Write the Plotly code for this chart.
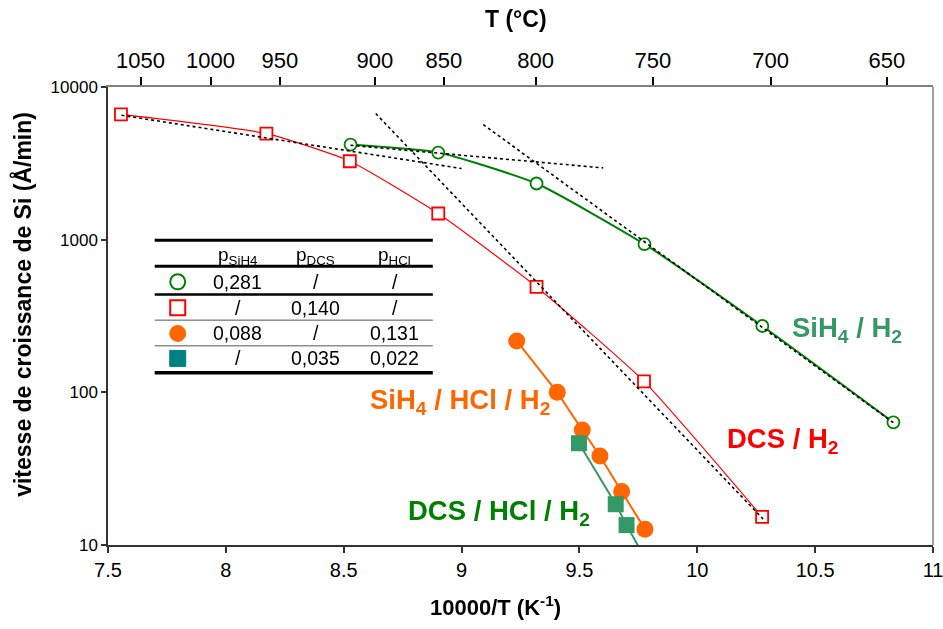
import plotly.graph_objects as go

# ---------------- data ----------------
sih4_h2_x = [8.529, 8.901, 9.318, 9.776, 10.276, 10.832]
sih4_h2_y = [4198, 3722, 2333, 934, 272, 63.6]

dcs_h2_x = [7.555, 8.172, 8.526, 8.901, 9.318, 9.774, 10.275]
dcs_h2_y = [6620, 4955, 3264, 1484, 490, 118, 15.3]

sih4_hcl_x = [9.234, 9.406, 9.512, 9.587, 9.679, 9.778]
sih4_hcl_y = [217, 100, 56.6, 38.3, 22.4, 12.7]

dcs_hcl_x = [9.498, 9.654, 9.700]
dcs_hcl_y = [46.4, 18.5, 13.5]
dcs_hcl_trend_x = [9.498, 9.654, 9.700, 9.76]
dcs_hcl_trend_y = [46.4, 18.5, 13.5, 9.2]

# Arrhenius fit lines (dotted)
fit_dcs_high_x = [7.557, 9.0]
fit_dcs_high_y = [6531, 2924]
fit_sih4_high_x = [8.529, 9.601]
fit_sih4_high_y = [4152, 2951]
fit_dcs_low_x = [8.636, 10.279]
fit_dcs_low_y = [6698, 14.8]
fit_sih4_low_x = [9.092, 10.84]
fit_sih4_low_y = [5675, 61.9]

# axes ticks
x_ticks = [7.5, 8, 8.5, 9, 9.5, 10, 10.5, 11]
x_ticktext = ["7.5", "8", "8.5", "9", "9.5", "10", "10.5", "11"]
y_ticks = [10, 100, 1000, 10000]
y_ticktext = ["10", "100", "1000", "10000"]
top_tick_labels = ["1050", "1000", "950", "900", "850", "800", "750", "700", "650"]
top_tick_pos = [7.638, 7.935, 8.229, 8.632, 8.925, 9.314, 9.812, 10.311, 10.804]

# table
table_headers = ["p<sub>SiH4</sub>", "p<sub>DCS</sub>", "p<sub>HCl</sub>"]
table_rows = [
    ["0,281", "/", "/"],
    ["/", "0,140", "/"],
    ["0,088", "/", "0,131"],
    ["/", "0,035", "0,022"],
]

FONT = "Liberation Sans, Arial, sans-serif"
GREEN = "#008000"
RED = "#FF0000"
ORANGE = "#FF6600"
SEA = "#339966"
TEAL = "#008080"

fig = go.Figure()

fig.add_trace(go.Scatter(
    x=dcs_h2_x, y=dcs_h2_y, mode="lines+markers",
    line=dict(color=RED, width=1.2, shape="spline", smoothing=0.5),
    marker=dict(symbol="square", size=12, color="white", line=dict(color=RED, width=1.8)),
    showlegend=False))

fig.add_trace(go.Scatter(
    x=sih4_h2_x, y=sih4_h2_y, mode="lines+markers",
    line=dict(color=GREEN, width=2, shape="spline", smoothing=0.5),
    marker=dict(symbol="circle", size=12, color="white", line=dict(color=GREEN, width=1.8)),
    showlegend=False))

fig.add_trace(go.Scatter(
    x=dcs_hcl_trend_x, y=dcs_hcl_trend_y, mode="lines",
    line=dict(color=SEA, width=2), showlegend=False))

fig.add_trace(go.Scatter(
    x=sih4_hcl_x, y=sih4_hcl_y, mode="lines+markers",
    line=dict(color=ORANGE, width=2),
    marker=dict(symbol="circle", size=17, color=ORANGE),
    showlegend=False))

fig.add_trace(go.Scatter(
    x=dcs_hcl_x, y=dcs_hcl_y, mode="markers",
    marker=dict(symbol="square", size=16, color=SEA),
    showlegend=False))

for fx, fy in [(fit_dcs_high_x, fit_dcs_high_y), (fit_sih4_high_x, fit_sih4_high_y),
               (fit_dcs_low_x, fit_dcs_low_y), (fit_sih4_low_x, fit_sih4_low_y)]:
    fig.add_trace(go.Scatter(x=fx, y=fy, mode="lines",
                             line=dict(color="black", width=1.6, dash="dot"),
                             showlegend=False))

# invisible trace so the top temperature axis is drawn
fig.add_trace(go.Scatter(x=sih4_h2_x, y=sih4_h2_y, xaxis="x2", yaxis="y",
                         mode="markers", opacity=0, hoverinfo="skip", showlegend=False))

# ---------------- pixel helpers for layout decorations ----------------
L, R, T, B = 108.3, 933.0, 86.7, 545.0
def px(x):
    return (x - L) / (R - L)
def py(y):
    return (B - y) / (B - T)

shapes = []
for yy, w, c in [(240, 3, "black"), (266, 3, "black"), (294.3, 2.5, "black"),
                 (320, 1, "#555555"), (345.7, 1, "#555555"), (372.7, 3.5, "black")]:
    shapes.append(dict(type="line", xref="paper", yref="paper",
                       x0=px(155), x1=px(433), y0=py(yy), y1=py(yy),
                       line=dict(color=c, width=w)))

sym_x = px(178)
row_y = [281.7, 307.7, 333.3, 358.3]
sym_specs = [("circle", 7.5, "white", GREEN, 2),
             ("rect", 7.5, "white", RED, 2),
             ("circle", 8, ORANGE, ORANGE, 1),
             ("rect", 8, TEAL, TEAL, 1)]
for (kind, r, fillc, linec, lw), ry in zip(sym_specs, row_y):
    shapes.append(dict(type=kind, xref="paper", yref="paper",
                       xsizemode="pixel", ysizemode="pixel",
                       xanchor=sym_x, yanchor=py(ry),
                       x0=-r, x1=r, y0=-r, y1=r,
                       fillcolor=fillc, line=dict(color=linec, width=lw)))

shapes.append(dict(type="line", xref="paper", yref="paper", x0=1, x1=1, y0=0, y1=1,
                   line=dict(color="#808080", width=1.5)))

annotations = []
col_x = [px(238), px(316), px(395)]
for h, cx in zip(table_headers, col_x):
    annotations.append(dict(text=h, x=cx, y=py(256), xref="paper", yref="paper",
                            showarrow=False, xanchor="center", yanchor="middle",
                            font=dict(family=FONT, size=19, color="black")))
for row, ry in zip(table_rows, row_y):
    for val, cx in zip(row, col_x):
        annotations.append(dict(text=val, x=cx, y=py(ry), xref="paper", yref="paper",
                                showarrow=False, xanchor="center", yanchor="middle",
                                font=dict(family=FONT, size=19.5, color="black")))

series_labels = [
    ("<b>SiH<sub>4</sub> / H<sub>2</sub></b>", 846.7, 329.3, SEA),
    ("<b>DCS / H<sub>2</sub></b>", 783, 440, RED),
    ("<b>SiH<sub>4</sub> / HCl / H<sub>2</sub></b>", 460, 401.7, ORANGE),
    ("<b>DCS / HCl / H<sub>2</sub></b>", 499, 512, GREEN),
]
for txt, lx, ly, col in series_labels:
    annotations.append(dict(text=txt, x=px(lx), y=py(ly), xref="paper", yref="paper",
                            showarrow=False, xanchor="center", yanchor="middle",
                            font=dict(family=FONT, size=27.5, color=col)))

annotations.append(dict(text="<b>vitesse de croissance de Si (Å/min)</b>", textangle=-90,
                        x=px(22.5), y=py(304.5), xref="paper", yref="paper",
                        showarrow=False, xanchor="center", yanchor="middle",
                        font=dict(family=FONT, size=23, color="black")))
annotations.append(dict(text="<b>10000/T (K<sup>-1</sup>)</b>",
                        x=px(496), y=py(606), xref="paper", yref="paper",
                        showarrow=False, xanchor="center", yanchor="middle",
                        font=dict(family=FONT, size=22, color="black")))
annotations.append(dict(text="<b>T (°C)</b>",
                        x=px(516), y=py(19), xref="paper", yref="paper",
                        showarrow=False, xanchor="center", yanchor="middle",
                        font=dict(family=FONT, size=23, color="black")))

fig.update_layout(
    width=943, height=629,
    margin=dict(l=108, r=10, t=87, b=84, autoexpand=False),
    paper_bgcolor="white", plot_bgcolor="white",
    font=dict(family=FONT, color="black"),
    showlegend=False,
    xaxis=dict(range=[7.5, 11], tickmode="array", tickvals=x_ticks, ticktext=x_ticktext,
               ticks="outside", ticklen=6, tickwidth=1.5, tickcolor="#333333",
               showline=True, linecolor="#333333", linewidth=1.5, automargin=False,
               showgrid=False, zeroline=False, ticklabeloverflow="allow",
               tickfont=dict(family=FONT, size=20, color="black")),
    xaxis2=dict(range=[7.5, 11], overlaying="x", side="top", anchor="y",
                tickmode="array", tickvals=top_tick_pos, ticktext=top_tick_labels,
                ticks="outside", ticklen=8, tickwidth=1.8, tickcolor="black",
                showline=True, linecolor="#808080", linewidth=1.5, automargin=False,
                showgrid=False, zeroline=False,
                tickfont=dict(family=FONT, size=22, color="black")),
    yaxis=dict(type="log", range=[1, 4], tickmode="array", tickvals=y_ticks, ticktext=y_ticktext,
               ticks="outside", ticklen=5, tickwidth=1.5, tickcolor="#333333",
               showline=True, linecolor="#333333", linewidth=1.5, automargin=False,
               showgrid=False, zeroline=False,
               tickfont=dict(family=FONT, size=17, color="black")),
    shapes=shapes,
    annotations=annotations,
)

fig.write_html("out.html", config={"displayModeBar": False},
               post_script="document.body.style.margin='0';document.body.style.overflow='hidden';")
